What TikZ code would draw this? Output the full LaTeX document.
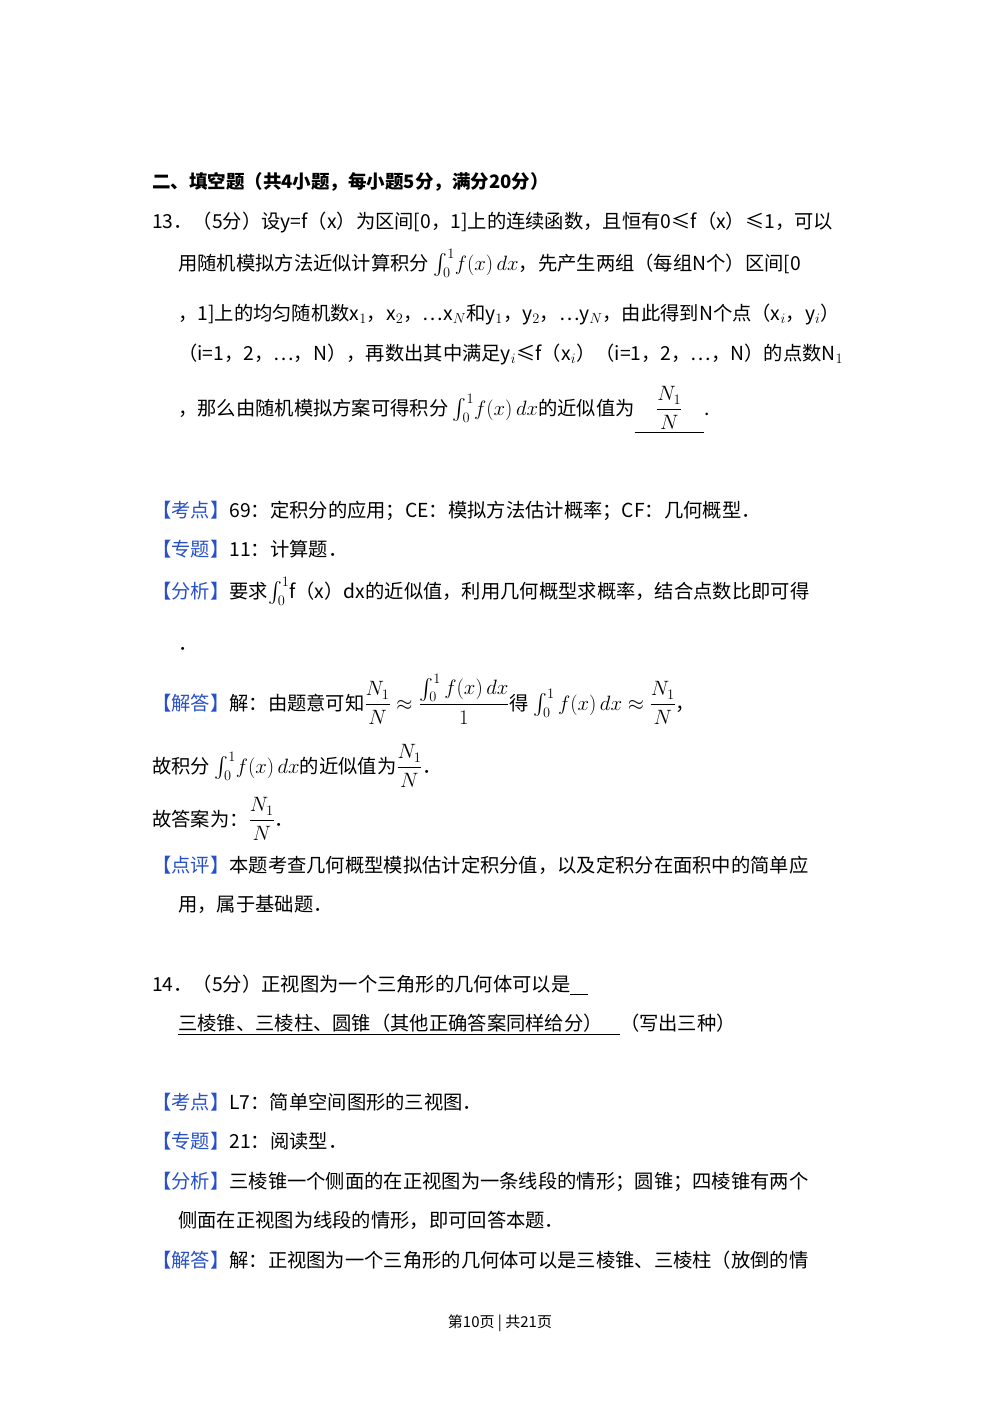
\documentclass[tikz,border=0pt]{standalone}
\usepackage{fontspec}
\setmainfont{Noto Sans CJK SC}
\usepackage{amsmath}
\definecolor{kb}{RGB}{40,80,200}
\begin{document}
\begin{tikzpicture}[x=1pt,y=-1pt,
  t/.style={anchor=base west,inner sep=0pt,font=\fontsize{19.3}{23}\selectfont},
  k/.style={text=kb}]
\useasboundingbox[fill=white] (0,0) rectangle (1000,1416);
\newcommand{\intf}{$\int_{0}^{1}\!f(x)\,dx$}
\node[t,font=\fontsize{18.5}{22}\selectfont\bfseries] (h) at (152,188) {二、填空题（共4小题，每小题5分，满分20分）};
\node[t] (a1) at (152,228) {13．（5分）设y=f（x）为区间[0，1]上的连续函数，且恒有0≤f（x）≤1，可以};
\node[t] (a2) at (178,270) {用随机模拟方法近似计算积分 \intf，先产生两组（每组N个）区间[0};
\node[t] (a3) at (178,320) {，1]上的均匀随机数x$_1$，x$_2$，…x$_N$和y$_1$，y$_2$，…y$_N$，由此得到N个点（x$_i$，y$_i$）};
\node[t] (a4) at (178,360) {（i=1，2，…，N），再数出其中满足y$_i$≤f（x$_i$）（i=1，2，…，N）的点数N$_1$};
\node[t] (a5) at (178,415) {，那么由随机模拟方案可得积分 \intf 的近似值为\underline{\ \ \ \ \ $\dfrac{N_1}{N}$\ \ \ \ \ }.};
\node[t] (b1) at (152,517) {\textcolor{kb}{【考点】}69：定积分的应用；CE：模拟方法估计概率；CF：几何概型．};
\node[t] (b2) at (152,556) {\textcolor{kb}{【专题】}11：计算题．};
\node[t] (b3) at (152,598) {\textcolor{kb}{【分析】}要求$\int_0^1$f（x）dx的近似值，利用几何概型求概率，结合点数比即可得};
\node[t] (b4) at (178,650) {．};
\node[t] (b5) at (152,710) {\textcolor{kb}{【解答】}解：由题意可知$\dfrac{N_1}{N}\approx\dfrac{\int_0^1 f(x)\,dx}{1}$得 $\int_0^1 f(x)\,dx\approx\dfrac{N_1}{N}$，};
\node[t] (b6) at (152,773) {故积分 \intf 的近似值为$\dfrac{N_1}{N}$．};
\node[t] (b7) at (152,826) {故答案为：$\dfrac{N_1}{N}$．};
\node[t] (b8) at (152,872) {\textcolor{kb}{【点评】}本题考查几何概型模拟估计定积分值，以及定积分在面积中的简单应};
\node[t] (b9) at (178,911) {用，属于基础题．};
\node[t] (c1) at (152,991) {14．（5分）正视图为一个三角形的几何体可以是\underline{\ \ \ \ }};
\node[t] (c2) at (178,1030) {\underline{三棱锥、三棱柱、圆锥（其他正确答案同样给分）\ \ \ \ }（写出三种）};
\node[t] (d1) at (152,1109) {\textcolor{kb}{【考点】}L7：简单空间图形的三视图．};
\node[t] (d2) at (152,1148) {\textcolor{kb}{【专题】}21：阅读型．};
\node[t] (d3) at (152,1188) {\textcolor{kb}{【分析】}三棱锥一个侧面的在正视图为一条线段的情形；圆锥；四棱锥有两个};
\node[t] (d4) at (178,1227) {侧面在正视图为线段的情形，即可回答本题．};
\node[t] (d5) at (152,1267) {\textcolor{kb}{【解答】}解：正视图为一个三角形的几何体可以是三棱锥、三棱柱（放倒的情};
\node[anchor=base,inner sep=0pt,font=\fontsize{15}{18}\selectfont] (f) at (500,1327) {第10页 | 共21页};
\end{tikzpicture}
\end{document}
